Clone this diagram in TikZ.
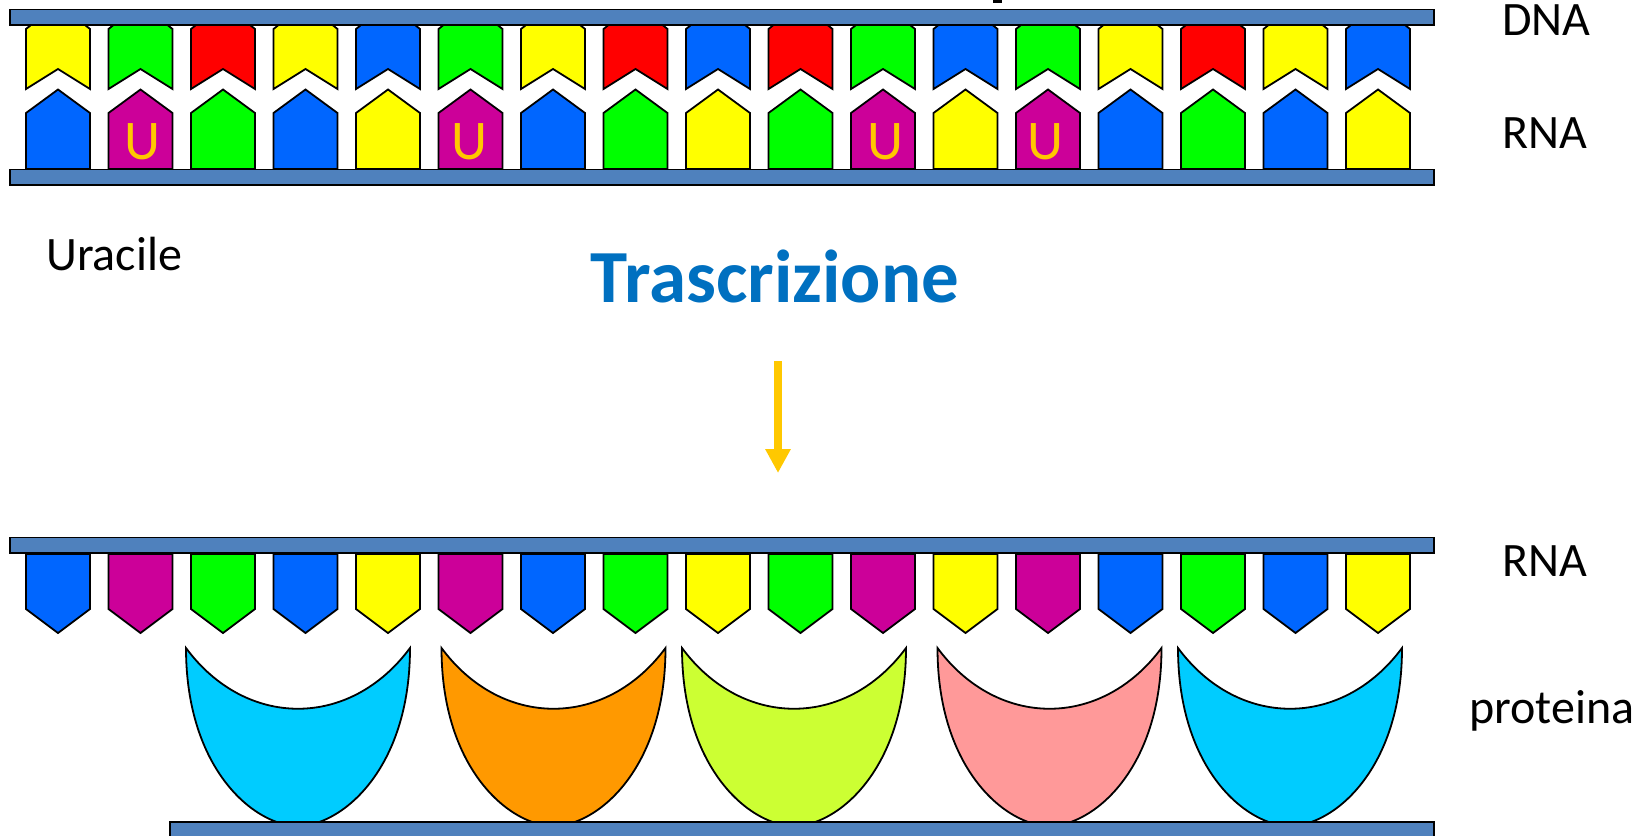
\documentclass[tikz,border=0pt]{standalone}
\usepackage{fontspec}
\setmainfont{Carlito}
\usepackage{xcolor}
\usetikzlibrary{arrows.meta}

\definecolor{barblue}{HTML}{4F81BD}
\definecolor{baseblue}{HTML}{0066FF}
\definecolor{basepurple}{HTML}{CC0099}
\definecolor{basegreen}{HTML}{00FF00}
\definecolor{baseyellow}{HTML}{FFFF00}
\definecolor{basered}{HTML}{FF0000}
\definecolor{cupcyan}{HTML}{00CCFF}
\definecolor{cuporange}{HTML}{FF9900}
\definecolor{cuplime}{HTML}{CCFF33}
\definecolor{cuppink}{HTML}{FF9999}
\definecolor{titleblue}{HTML}{0070C0}
\definecolor{arrowgold}{HTML}{FFC800}

\begin{document}
\begin{tikzpicture}[
    x=1pt, y=-1pt,
    outline/.style={draw=black, line width=1.8pt, line join=miter},
    strand/.style={outline, fill=barblue, inner sep=0pt, outer sep=0pt, anchor=north west, minimum height=15.5pt},
    label/.style={font=\fontsize{48}{48}\selectfont, text=black, inner sep=0pt, anchor=base west},
    dnatile/.pic={\path[outline, pic actions] (0,29) -- (5,25) -- (59,25) -- (64,29) -- (64,89) -- (32,69) -- (0,89) -- cycle;},
    rnatile/.pic={\path[outline, pic actions] (0,169) -- (0,113) -- (32,89.5) -- (64,113) -- (64,169) -- cycle;},
    codontile/.pic={\path[outline, pic actions] (0,554) -- (0,609) -- (32,633) -- (64,609) -- (64,554) -- cycle;},
    cup/.pic={\path[outline, pic actions] (0,648) .. controls (60,729) and (164,729) .. (224,648)
        .. controls (224,770) and (155,826) .. (112,826) .. controls (69,826) and (0,770) .. (0,648) -- cycle;}
]
\path[use as bounding box, clip] (0,0) rectangle (1648,835);

% upper double strand
\foreach \col [count=\i from 0] in {baseyellow,basegreen,basered,baseyellow,baseblue,basegreen,baseyellow,basered,baseblue,basered,basegreen,baseblue,basegreen,baseyellow,basered,baseyellow,baseblue}
    \pic[fill=\col] at (26+82.5*\i,0) {dnatile};
\foreach \col [count=\i from 0] in {baseblue,basepurple,basegreen,baseblue,baseyellow,basepurple,baseblue,basegreen,baseyellow,basegreen,basepurple,baseyellow,basepurple,baseblue,basegreen,baseblue,baseyellow} {
    \pic[fill=\col] at (26+82.5*\i,0) {rnatile};
    \pic[fill=\col] at (26+82.5*\i,0) {codontile};
}

% uracil letters
\foreach \xpos [count=\i] in {142,469,885,1045}
    \node[font=\fontsize{56}{56}\selectfont, text=arrowgold, inner sep=0pt, anchor=base] (ura\i) at (\xpos,159) {U};

% the cups
\foreach \xpos/\col in {186/cupcyan,441.5/cuporange,682/cuplime,937.5/cuppink,1178/cupcyan}
    \pic[fill=\col] at (\xpos,0) {cup};

\node[strand, minimum width=1424pt] (dnabar) at (10,9.5) {};
\node[strand, minimum width=1424pt] (rnabar) at (10,169.5) {};
\node[strand, minimum width=1424pt] (codonbar) at (10,537.5) {};
\node[strand, minimum width=1264pt, minimum height=25pt] (proteinbar) at (170,822) {};
\fill (993,0) rectangle (1002,3);

\node[label] (dnalabel) at (1502,35) {DNA};
\node[label] (rnalabel) at (1502,148) {RNA};
\node[label] (uracile) at (46,270) {Uracile};
\node[label] (rnalabelb) at (1502,576) {RNA};
\node[label] (proteina) at (1469,723) {proteina};
\node[font=\fontsize{75}{75}\selectfont\bfseries, text=titleblue, inner sep=0pt] (trascrizione) at (775,276) {Trascrizione};

\coordinate (arrowtop) at (778,361);
\coordinate (arrowtip) at (778,473);
\draw[arrowgold, line width=8pt, -{Triangle[length=24pt, width=24pt]}] (arrowtop) -- (arrowtip);
\end{tikzpicture}
\end{document}
